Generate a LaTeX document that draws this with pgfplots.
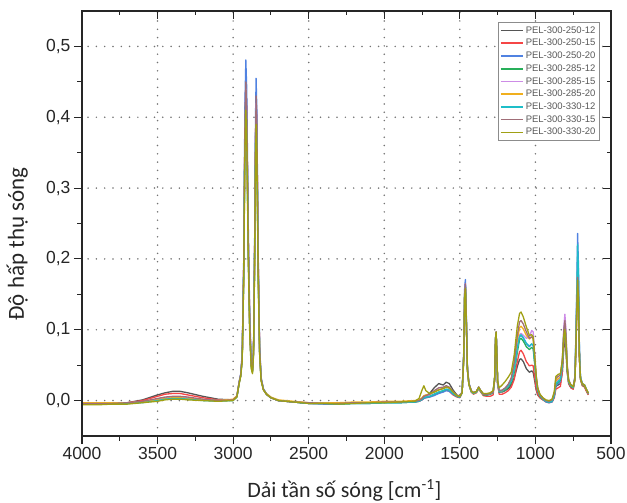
\documentclass[border=0pt]{standalone}
\usepackage{pgfplots}
\pgfplotsset{compat=1.18}
\usepackage{pgfplotstable}
\usepackage{fontspec}
\setmainfont{Liberation Sans}
\newfontfamily\carlito{Carlito}

\definecolor{sGray}{RGB}{85,85,85}
\definecolor{sRed}{RGB}{245,70,70}
\definecolor{sBlue}{RGB}{80,130,225}
\definecolor{sGreen}{RGB}{40,175,90}
\definecolor{sViolet}{RGB}{205,140,230}
\definecolor{sOrange}{RGB}{240,175,30}
\definecolor{sCyan}{RGB}{30,190,200}
\definecolor{sMauve}{RGB}{160,110,120}
\definecolor{sOlive}{RGB}{160,160,20}

\pgfplotstableread{
x g r b gn v o c m ol
4000 -0.004 -0.004 -0.005 -0.005 -0.004 -0.003 -0.005 -0.004 -0.006
3900 -0.004 -0.004 -0.005 -0.005 -0.004 -0.003 -0.005 -0.004 -0.006
3800 -0.004 -0.004 -0.005 -0.005 -0.004 -0.003 -0.005 -0.004 -0.005
3700 -0.003 -0.003 -0.004 -0.004 -0.003 -0.003 -0.004 -0.003 -0.005
3600 0.001 0.000 -0.002 -0.002 -0.002 -0.002 -0.003 -0.001 -0.003
3500 0.008 0.006 0.002 0.001 0.002 0.001 0.000 0.003 -0.001
3450 0.011 0.009 0.004 0.003 0.004 0.003 0.002 0.005 0.001
3400 0.013 0.010 0.005 0.004 0.005 0.004 0.003 0.006 0.002
3350 0.013 0.010 0.005 0.004 0.005 0.004 0.003 0.006 0.002
3300 0.011 0.008 0.004 0.003 0.004 0.003 0.002 0.005 0.001
3200 0.006 0.004 0.001 0.001 0.001 0.001 0.000 0.002 0.000
3100 0.002 0.001 0.000 0.000 0.000 0.000 -0.001 0.000 -0.001
3000 0.001 0.001 0.001 0.001 0.001 0.002 0.000 0.001 0.000
2975 0.006 0.006 0.006 0.006 0.006 0.007 0.005 0.006 0.005
2960 0.025 0.026 0.027 0.025 0.026 0.025 0.025 0.026 0.024
2950 0.035 0.036 0.038 0.035 0.036 0.035 0.035 0.036 0.034
2940 0.060 0.062 0.066 0.060 0.062 0.058 0.060 0.062 0.056
2930 0.18 0.19 0.20 0.18 0.19 0.17 0.18 0.19 0.17
2922 0.38 0.39 0.42 0.37 0.38 0.36 0.37 0.39 0.35
2916 0.44 0.45 0.481 0.43 0.44 0.42 0.43 0.45 0.41
2910 0.40 0.41 0.44 0.39 0.40 0.38 0.39 0.41 0.37
2900 0.22 0.23 0.25 0.21 0.22 0.21 0.21 0.23 0.20
2890 0.10 0.11 0.12 0.10 0.10 0.10 0.10 0.11 0.09
2880 0.05 0.05 0.055 0.048 0.05 0.046 0.048 0.05 0.045
2872 0.042 0.043 0.046 0.040 0.042 0.039 0.040 0.043 0.038
2865 0.07 0.07 0.075 0.068 0.07 0.066 0.068 0.07 0.064
2858 0.20 0.21 0.22 0.20 0.20 0.19 0.20 0.21 0.19
2852 0.36 0.37 0.40 0.35 0.36 0.34 0.35 0.37 0.33
2848 0.42 0.43 0.455 0.41 0.42 0.40 0.41 0.43 0.39
2843 0.38 0.39 0.41 0.37 0.38 0.36 0.37 0.39 0.35
2835 0.20 0.21 0.22 0.19 0.20 0.19 0.19 0.21 0.18
2825 0.07 0.075 0.08 0.07 0.07 0.068 0.07 0.075 0.066
2815 0.030 0.031 0.033 0.030 0.030 0.029 0.030 0.031 0.028
2800 0.016 0.016 0.017 0.016 0.016 0.016 0.016 0.016 0.015
2780 0.009 0.009 0.010 0.009 0.009 0.010 0.009 0.009 0.009
2750 0.004 0.004 0.004 0.004 0.004 0.005 0.004 0.004 0.004
2700 0.000 0.000 0.000 0.000 0.000 0.001 0.000 0.000 0.000
2600 -0.002 -0.002 -0.002 -0.002 -0.002 -0.001 -0.002 -0.002 -0.002
2500 -0.004 -0.004 -0.004 -0.004 -0.003 -0.003 -0.004 -0.003 -0.004
2400 -0.004 -0.004 -0.005 -0.004 -0.004 -0.003 -0.004 -0.004 -0.004
2300 -0.004 -0.004 -0.005 -0.005 -0.004 -0.003 -0.005 -0.004 -0.005
2200 -0.003 -0.003 -0.004 -0.004 -0.003 -0.002 -0.004 -0.003 -0.004
2100 -0.003 -0.003 -0.004 -0.004 -0.003 -0.002 -0.004 -0.003 -0.003
2000 -0.002 -0.002 -0.003 -0.003 -0.002 -0.001 -0.003 -0.002 -0.003
1900 -0.002 -0.002 -0.003 -0.003 -0.002 -0.001 -0.003 -0.002 -0.002
1800 -0.001 -0.002 -0.002 -0.002 -0.001 0.000 -0.002 -0.001 -0.001
1770 0.000 -0.001 -0.001 -0.001 0.000 0.001 -0.001 0.000 0.003
1750 0.003 0.001 0.001 0.002 0.003 0.004 0.002 0.003 0.015
1738 0.006 0.003 0.003 0.004 0.005 0.007 0.004 0.006 0.021
1725 0.007 0.004 0.004 0.005 0.006 0.008 0.005 0.007 0.014
1700 0.010 0.005 0.005 0.006 0.008 0.009 0.006 0.009 0.010
1670 0.018 0.008 0.007 0.009 0.012 0.012 0.009 0.014 0.012
1640 0.024 0.011 0.010 0.012 0.016 0.015 0.012 0.018 0.015
1610 0.022 0.013 0.012 0.014 0.017 0.017 0.014 0.019 0.017
1590 0.026 0.015 0.014 0.016 0.019 0.019 0.016 0.021 0.019
1570 0.024 0.013 0.013 0.015 0.017 0.018 0.015 0.019 0.018
1545 0.015 0.008 0.009 0.010 0.012 0.012 0.010 0.013 0.012
1520 0.008 0.005 0.006 0.006 0.007 0.007 0.006 0.007 0.007
1500 0.006 0.004 0.005 0.005 0.006 0.006 0.005 0.006 0.006
1485 0.012 0.011 0.013 0.011 0.012 0.011 0.011 0.012 0.011
1475 0.060 0.058 0.065 0.058 0.060 0.056 0.058 0.060 0.055
1468 0.150 0.148 0.162 0.150 0.155 0.150 0.152 0.155 0.148
1463 0.160 0.158 0.171 0.160 0.165 0.160 0.162 0.165 0.158
1458 0.120 0.118 0.130 0.120 0.124 0.118 0.120 0.124 0.116
1450 0.045 0.043 0.048 0.044 0.046 0.043 0.044 0.046 0.043
1440 0.024 0.022 0.025 0.023 0.024 0.023 0.023 0.024 0.023
1425 0.014 0.012 0.014 0.013 0.014 0.013 0.013 0.014 0.014
1410 0.011 0.009 0.011 0.010 0.011 0.010 0.010 0.011 0.011
1390 0.013 0.011 0.013 0.012 0.013 0.012 0.012 0.013 0.013
1375 0.019 0.017 0.019 0.018 0.019 0.018 0.018 0.019 0.019
1365 0.015 0.013 0.015 0.014 0.015 0.014 0.014 0.015 0.015
1345 0.009 0.007 0.009 0.008 0.009 0.009 0.009 0.009 0.010
1320 0.008 0.006 0.008 0.008 0.009 0.009 0.009 0.009 0.010
1300 0.009 0.006 0.009 0.009 0.010 0.010 0.010 0.010 0.011
1280 0.012 0.008 0.011 0.011 0.012 0.012 0.012 0.012 0.014
1270 0.030 0.028 0.030 0.030 0.030 0.030 0.030 0.030 0.032
1264 0.085 0.083 0.088 0.086 0.088 0.087 0.087 0.088 0.088
1260 0.095 0.093 0.097 0.095 0.097 0.096 0.096 0.097 0.097
1256 0.070 0.068 0.072 0.070 0.072 0.070 0.071 0.072 0.072
1250 0.025 0.022 0.025 0.024 0.025 0.025 0.025 0.026 0.028
1240 0.012 0.009 0.012 0.012 0.013 0.013 0.013 0.014 0.018
1220 0.012 0.009 0.013 0.013 0.014 0.014 0.014 0.015 0.022
1200 0.014 0.011 0.015 0.015 0.017 0.017 0.017 0.018 0.027
1180 0.017 0.014 0.019 0.019 0.021 0.022 0.021 0.023 0.033
1160 0.022 0.019 0.026 0.025 0.028 0.030 0.028 0.032 0.040
1140 0.032 0.030 0.042 0.040 0.045 0.050 0.045 0.055 0.065
1120 0.048 0.055 0.072 0.068 0.075 0.085 0.074 0.092 0.105
1105 0.058 0.069 0.090 0.086 0.093 0.103 0.091 0.111 0.123
1095 0.059 0.071 0.092 0.088 0.095 0.105 0.093 0.113 0.125
1080 0.055 0.066 0.088 0.084 0.092 0.101 0.089 0.108 0.118
1060 0.045 0.055 0.080 0.076 0.088 0.092 0.081 0.097 0.104
1040 0.040 0.049 0.076 0.072 0.090 0.087 0.077 0.088 0.092
1025 0.042 0.050 0.080 0.075 0.099 0.090 0.080 0.090 0.093
1015 0.040 0.049 0.078 0.073 0.097 0.088 0.078 0.088 0.090
1005 0.028 0.033 0.055 0.052 0.068 0.062 0.055 0.062 0.063
995 0.015 0.017 0.030 0.028 0.036 0.033 0.030 0.034 0.035
985 0.008 0.009 0.015 0.014 0.018 0.017 0.015 0.017 0.018
970 0.004 0.004 0.007 0.006 0.008 0.008 0.007 0.008 0.009
950 0.001 0.001 0.002 0.002 0.003 0.003 0.002 0.003 0.004
930 -0.001 -0.002 -0.002 -0.001 0.000 0.000 -0.001 0.000 0.001
910 -0.002 -0.003 -0.003 -0.002 -0.001 -0.001 -0.002 -0.001 0.000
890 -0.001 -0.002 -0.002 -0.001 0.000 0.000 -0.001 0.001 0.002
875 0.008 0.004 0.006 0.007 0.009 0.010 0.008 0.011 0.013
865 0.020 0.016 0.021 0.023 0.026 0.028 0.024 0.031 0.034
850 0.022 0.018 0.024 0.026 0.029 0.031 0.027 0.034 0.037
835 0.024 0.020 0.027 0.029 0.032 0.033 0.030 0.036 0.038
822 0.040 0.040 0.048 0.050 0.056 0.054 0.052 0.058 0.056
812 0.075 0.080 0.090 0.090 0.105 0.095 0.095 0.100 0.092
805 0.088 0.095 0.104 0.100 0.122 0.105 0.108 0.113 0.100
798 0.070 0.078 0.085 0.082 0.100 0.088 0.088 0.094 0.082
790 0.040 0.042 0.046 0.045 0.052 0.048 0.047 0.050 0.046
780 0.024 0.024 0.026 0.026 0.029 0.028 0.027 0.029 0.028
765 0.018 0.018 0.020 0.020 0.022 0.021 0.021 0.022 0.022
750 0.017 0.016 0.018 0.018 0.020 0.019 0.019 0.020 0.020
738 0.030 0.030 0.035 0.032 0.035 0.032 0.034 0.033 0.031
728 0.110 0.110 0.140 0.120 0.130 0.115 0.130 0.115 0.110
721 0.172 0.175 0.236 0.185 0.200 0.178 0.220 0.174 0.170
715 0.140 0.145 0.190 0.150 0.165 0.145 0.180 0.142 0.138
709 0.060 0.062 0.075 0.064 0.070 0.062 0.072 0.061 0.060
702 0.030 0.030 0.034 0.031 0.033 0.031 0.033 0.031 0.031
690 0.022 0.021 0.024 0.022 0.024 0.023 0.024 0.023 0.024
675 0.020 0.019 0.022 0.020 0.022 0.021 0.022 0.021 0.022
665 0.015 0.014 0.017 0.016 0.017 0.016 0.017 0.016 0.017
650 0.009 0.008 0.010 0.009 0.010 0.010 0.010 0.010 0.011
}\data

\pgfplotsset{
  myframe/.style={
    width=529pt, height=425pt, scale only axis,
    xmin=500, xmax=4000, x dir=reverse,
    ymin=-0.05, ymax=0.55,
    xtick={500,1000,...,4000},
    ytick={0,0.1,...,0.5},
    minor x tick num=1, minor y tick num=1,
    major tick length=8pt, minor tick length=4.5pt,
    axis line style={line width=1.1pt, black!85},
    every tick/.style={line width=1.1pt, black!85},
  }
}

\begin{document}
\begin{tikzpicture}
\begin{axis}[myframe, name=ax,
  tick align=outside,
  xtick pos=left, ytick pos=left,
  grid=major,
  major grid style={black!55, line width=1.7pt, line cap=round, dash pattern=on 0pt off 8.3pt},
  /pgf/number format/assume math mode=true,
  xticklabel style={font=\fontsize{17.5}{20}\selectfont, text=black!85, /pgf/number format/1000 sep={}},
  yticklabel style={font=\fontsize{17.5}{20}\selectfont, text=black!85, /pgf/number format/.cd, use comma, fixed, fixed zerofill, precision=1},
  xlabel={\carlito Dải tần số sóng [cm\textsuperscript{-1}]},
  ylabel={\carlito Độ hấp thụ sóng},
  xlabel style={font=\fontsize{22}{24}\selectfont, text=black!85, at={(axis description cs:0.496,-0.153)}, anchor=south, inner sep=0pt},
  ylabel style={font=\fontsize{23}{25}\selectfont, text=black!85, at={(axis description cs:-0.102,0.452)}, anchor=south, inner sep=0pt},
  legend style={at={(0.979,0.974)}, anchor=north east, draw=black!45, line width=0.8pt, fill=white,
    font=\fontsize{9.5}{10}\selectfont, text=black!65, row sep=0.6pt, inner sep=2pt},
  legend cell align=left,
  legend image code/.code={\draw[#1, line width=1.6pt] (0pt,0pt) -- (22pt,0pt);},
  every axis plot/.append style={line width=1.3pt, line join=round},
]
\addplot[sGray] table[x=x,y=g]{\data}; \addlegendentry{PEL-300-250-12}
\addplot[sRed] table[x=x,y=r]{\data}; \addlegendentry{PEL-300-250-15}
\addplot[sBlue] table[x=x,y=b]{\data}; \addlegendentry{PEL-300-250-20}
\addplot[sGreen] table[x=x,y=gn]{\data}; \addlegendentry{PEL-300-285-12}
\addplot[sViolet] table[x=x,y=v]{\data}; \addlegendentry{PEL-300-285-15}
\addplot[sOrange] table[x=x,y=o]{\data}; \addlegendentry{PEL-300-285-20}
\addplot[sCyan] table[x=x,y=c]{\data}; \addlegendentry{PEL-300-330-12}
\addplot[sMauve] table[x=x,y=m]{\data}; \addlegendentry{PEL-300-330-15}
\addplot[sOlive] table[x=x,y=ol]{\data}; \addlegendentry{PEL-300-330-20}
\end{axis}
\begin{axis}[myframe,
  tick align=inside,
  xtick pos=right, ytick pos=right,
  xticklabels={}, yticklabels={},
]
\end{axis}
\pgfresetboundingbox
\path ([xshift=-82pt,yshift=-66pt]ax.south west) rectangle ([xshift=16pt,yshift=11pt]ax.north east);
\end{tikzpicture}
\end{document}
